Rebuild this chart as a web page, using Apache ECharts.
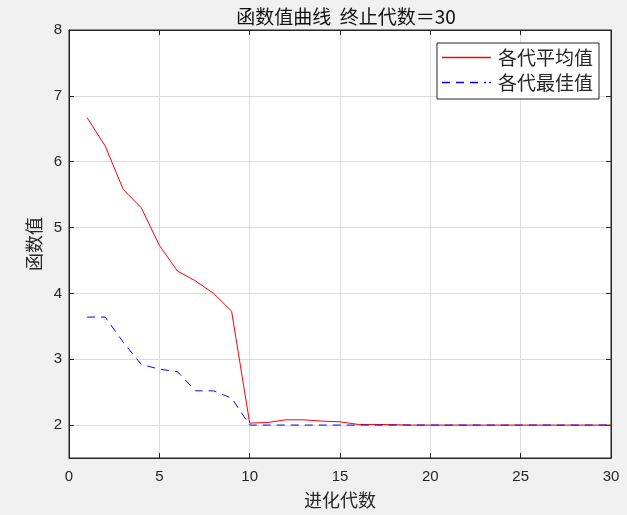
<!DOCTYPE html>
<html><head><meta charset="utf-8">
<script src="https://cdn.jsdelivr.net/npm/echarts@6/dist/echarts.min.js"></script>
<style>html,body{margin:0;padding:0;background:#f0f0f0}#c{width:627px;height:515px}</style>
</head><body><div id="c"></div>
<script>
var generations = [];
for (var i = 1; i <= 30; i++) generations.push(i);
var avgValues = [6.67,6.24,5.58,5.30,4.73,4.34,4.19,4.00,3.73,2.03,2.04,2.08,2.08,2.06,2.05,2.01,2.01,2.005,2,2,2,2,2,2,2,2,2,2,2,2];
var bestValues = [3.64,3.64,3.26,2.92,2.85,2.81,2.52,2.52,2.41,2,2,2,2,2,2,2,2,2,2,2,2,2,2,2,2,2,2,2,2,2];
var xTicks = [0,5,10,15,20,25,30];
var yTicks = [2,3,4,5,6,7,8];
var titleText = '函数值曲线  终止代数＝30';
var seriesNames = ['各代平均值','各代最佳值'];

function pairs(vals){ return vals.map(function(v,i){ return [generations[i], v]; }); }
var font = '"Noto Sans CJK SC","Noto Sans",sans-serif';
var numFont = '"Liberation Sans",Arial,sans-serif';
var chart = echarts.init(document.getElementById('c'));
var baseX = {type:'value',min:0,max:30,interval:5,
  axisLine:{show:true,onZero:false,lineStyle:{color:'#262626',width:1}},
  axisTick:{show:true,inside:true,length:5,lineStyle:{color:'#262626'}},
  splitLine:{show:false}};
var baseY = {type:'value',min:1.5,max:8,
  axisLine:{show:true,onZero:false,lineStyle:{color:'#262626',width:1}},
  axisTick:{show:true,inside:true,length:5,lineStyle:{color:'#262626'},customValues:yTicks},
  splitLine:{show:false}};
chart.setOption({
  backgroundColor:'#f0f0f0',
  animation:false,
  title:{text:titleText,left:341,top:2,textAlign:'center',
    textStyle:{fontFamily:font,fontSize:19,fontWeight:'normal',color:'#111'}},
  grid:{left:69,right:16,top:30,bottom:57,show:true,backgroundColor:'#fff',borderColor:'#262626',borderWidth:1},
  legend:{orient:'vertical',right:28,top:43,itemWidth:49,itemHeight:14,itemGap:6,
    backgroundColor:'#fff',borderColor:'#262626',borderWidth:1,padding:[5,6,7,5],
    textStyle:{fontFamily:font,fontSize:19,color:'#262626',padding:[0,0,0,2]},
    data:[{name:seriesNames[0],icon:'path://M0,0L49,0L49,1.4L0,1.4Z',itemStyle:{color:'#ff0000',borderWidth:0}},
          {name:seriesNames[1],icon:'path://M0,0h8v1.4h-8zM14,0h8v1.4h-8zM28,0h8v1.4h-8zM42,0h2v1.4h-2zM47,0h2v1.4h-2z',itemStyle:{color:'#0000ff',borderWidth:0}}]},
  xAxis:[
    Object.assign({}, baseX, {position:'bottom',
      name:'进化代数',nameLocation:'middle',nameGap:33,
      nameTextStyle:{fontFamily:font,fontSize:18,color:'#262626'},
      axisLabel:{show:true,margin:11,fontFamily:numFont,fontSize:15,color:'#262626',customValues:xTicks},
      axisTick:{show:true,inside:true,length:5,lineStyle:{color:'#262626'}},
      splitLine:{show:true,lineStyle:{color:'#dcdcdc',width:1}}}),
    Object.assign({}, baseX, {position:'top',axisLabel:{show:false}})
  ],
  yAxis:[
    Object.assign({}, baseY, {position:'left',
      name:'函数值',nameLocation:'middle',nameGap:26,nameRotate:90,
      nameTextStyle:{fontFamily:font,fontSize:18,color:'#262626'},
      axisLabel:{show:true,margin:7,fontFamily:numFont,fontSize:15,color:'#262626',customValues:yTicks},
      splitLine:{show:true,lineStyle:{color:'#dcdcdc',width:1}},
      axisTick:{show:true,inside:true,length:5,lineStyle:{color:'#262626'},customValues:yTicks}}),
    Object.assign({}, baseY, {position:'right',axisLabel:{show:false}})
  ],
  series:[
    {name:seriesNames[0],type:'line',data:pairs(avgValues),symbol:'none',
      itemStyle:{color:'#ff0000'},lineStyle:{color:'#ff0000',width:1}},
    {name:seriesNames[1],type:'line',data:pairs(bestValues),symbol:'none',
      itemStyle:{color:'#0000ff'},lineStyle:{color:'#0000ff',width:1,type:[8,6]}}
  ]
});
</script></body></html>
